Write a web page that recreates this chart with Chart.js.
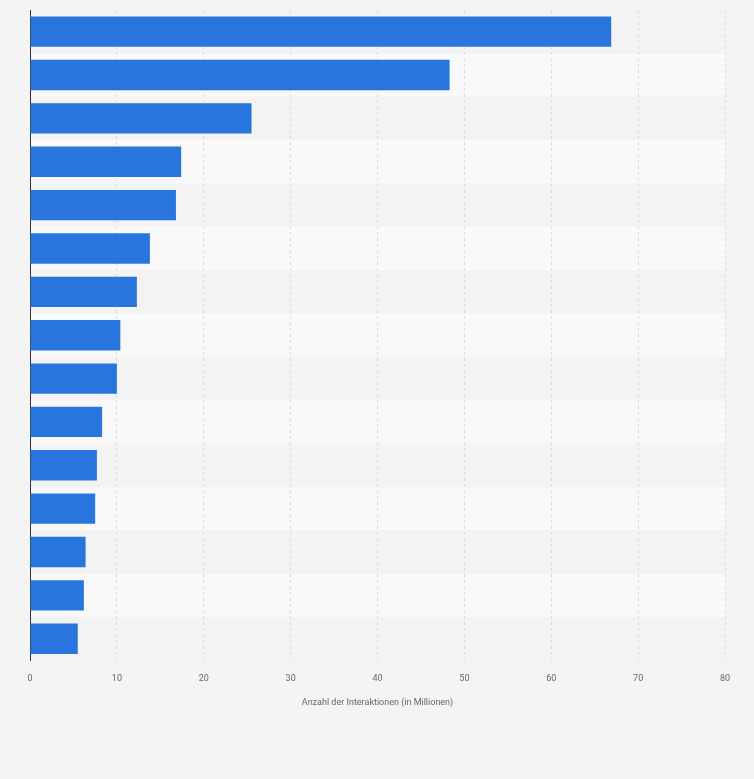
<!DOCTYPE html>
<html>
<head>
<meta charset="utf-8">
<script src="https://cdn.jsdelivr.net/npm/chart.js@4/dist/chart.umd.min.js"></script>
<style>
  html, body { margin: 0; padding: 0; background: #f4f4f4; }
  #wrap { width: 754px; height: 779px; position: relative; }
</style>
</head>
<body>
<div id="wrap"><canvas id="chart"></canvas></div>
<script>
// ── Data ─────────────────────────────────────────────────────────────────────
const categories = ['1','2','3','4','5','6','7','8','9','10','11','12','13','14','15'];
const values     = [66.9, 48.3, 25.5, 17.4, 16.8, 13.8, 12.3, 10.4, 10.0, 8.3, 7.7, 7.5, 6.4, 6.2, 5.5];
const xTicks     = [0, 10, 20, 30, 40, 50, 60, 70, 80];

// ── Alternating row bands ────────────────────────────────────────────────────
const rowBands = {
  id: 'rowBands',
  beforeDraw(chart) {
    const { ctx, chartArea, scales } = chart;
    const y = scales.y;
    const step = (chartArea.bottom - chartArea.top) / categories.length;
    ctx.save();
    categories.forEach((c, i) => {
      const top = y.getPixelForValue(i) - step / 2;
      ctx.fillStyle = i % 2 === 1 ? '#f9f9f9' : '#f3f3f3';
      ctx.fillRect(chartArea.left, top, chartArea.right - chartArea.left, step);
    });
    ctx.restore();
  }
};

const ctx = document.getElementById('chart').getContext('2d');
new Chart(ctx, {
  type: 'bar',
  data: {
    labels: categories,
    datasets: [{
      data: values,
      backgroundColor: '#2876dd',
      barPercentage: 0.7,
      categoryPercentage: 1
    }]
  },
  options: {
    indexAxis: 'y',
    responsive: true,
    maintainAspectRatio: false,
    animation: false,
    layout: { padding: { left: 0, right: 29, top: 10, bottom: 67 } },
    plugins: { legend: { display: false }, tooltip: { enabled: false } },
    scales: {
      x: {
        min: 0, max: 80,
        afterBuildTicks: s => { s.ticks = xTicks.map(v => ({ value: v })); },
        ticks: { color: '#666', font: { family: 'Roboto', size: 9 }, padding: 13 },
        grid: { color: '#dcdcdc', drawTicks: false },
        border: { display: false, dash: [3, 3] },
        title: { display: true, text: 'Anzahl der Interaktionen (in Millionen)',
                 color: '#666', font: { family: 'Roboto', size: 9 }, padding: { top: 0 } }
      },
      y: {
        ticks: { display: false },
        grid: { display: false, drawTicks: false },
        border: { display: true, color: '#333', width: 1 },
        afterFit: s => { s.width = 30; }
      }
    }
  },
  plugins: [rowBands]
});
</script>
</body>
</html>
